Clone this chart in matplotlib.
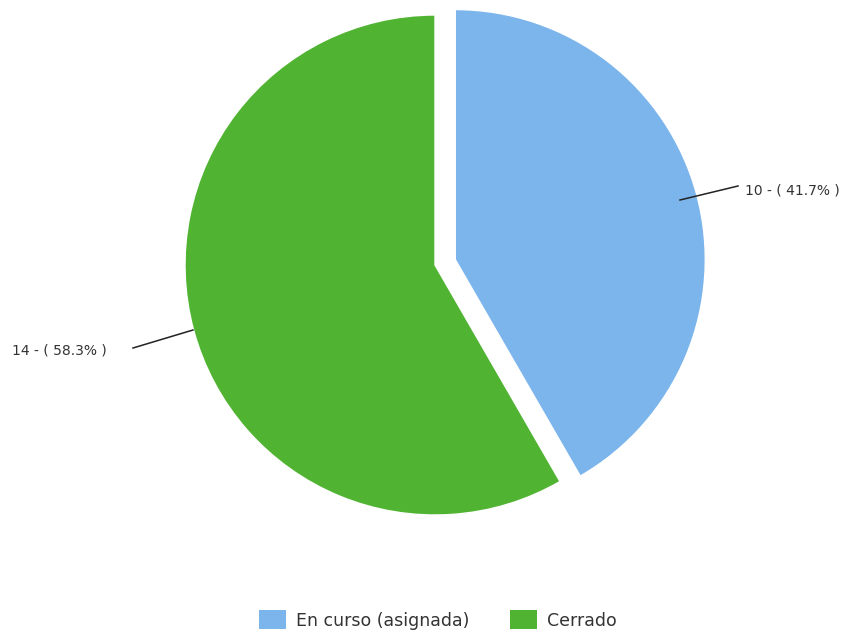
import matplotlib
matplotlib.use("Agg")
import matplotlib.pyplot as plt
from matplotlib.patches import Patch

categories = ["En curso (asignada)", "Cerrado"]
values = [10, 14]
colors = ["#7cb5ec", "#50b432"]

W, H = 855, 636
fig = plt.figure(figsize=(W / 100, H / 100), dpi=100)
ax = fig.add_axes([0, 0, 1, 1])

def Y(y):
    return H - y

cx, cy, R = 435, 265, 250
explode_px = 21
wedges, _ = ax.pie(values, colors=colors, startangle=90, counterclock=False,
                   radius=R, center=(cx, Y(cy)), explode=[explode_px, 0],
                   wedgeprops=dict(edgecolor="white", linewidth=1), frame=False)
ax.set_xlim(0, W)
ax.set_ylim(0, H)
ax.set_aspect("equal")
ax.axis("off")

total = sum(values)
labels = [f"{v} - ( {v / total * 100:.1f}% )" for v in values]
fs = 10
ax.plot([680, 738], [Y(200), Y(186)], color="#222222", lw=1.1, zorder=5)
ax.text(745, Y(190), labels[0], fontsize=fs, va="center", ha="left", color="#333333",
        family="DejaVu Sans")
ax.plot([133, 193], [Y(348), Y(330)], color="#222222", lw=1.1, zorder=5)
ax.text(12, Y(351), labels[1], fontsize=fs, va="center", ha="left", color="#333333",
        family="DejaVu Sans")

handles = [Patch(facecolor=c, edgecolor="none") for c in colors]
leg = fig.legend(handles, categories, loc="center", bbox_to_anchor=(438 / W, 1 - 620 / H),
                 ncol=2, frameon=False, fontsize=12.5, handlelength=1.55, handleheight=1.3,
                 columnspacing=2.3, handletextpad=0.6)
for t in leg.get_texts():
    t.set_color("#333333")

fig.savefig("out.png", dpi=100)
